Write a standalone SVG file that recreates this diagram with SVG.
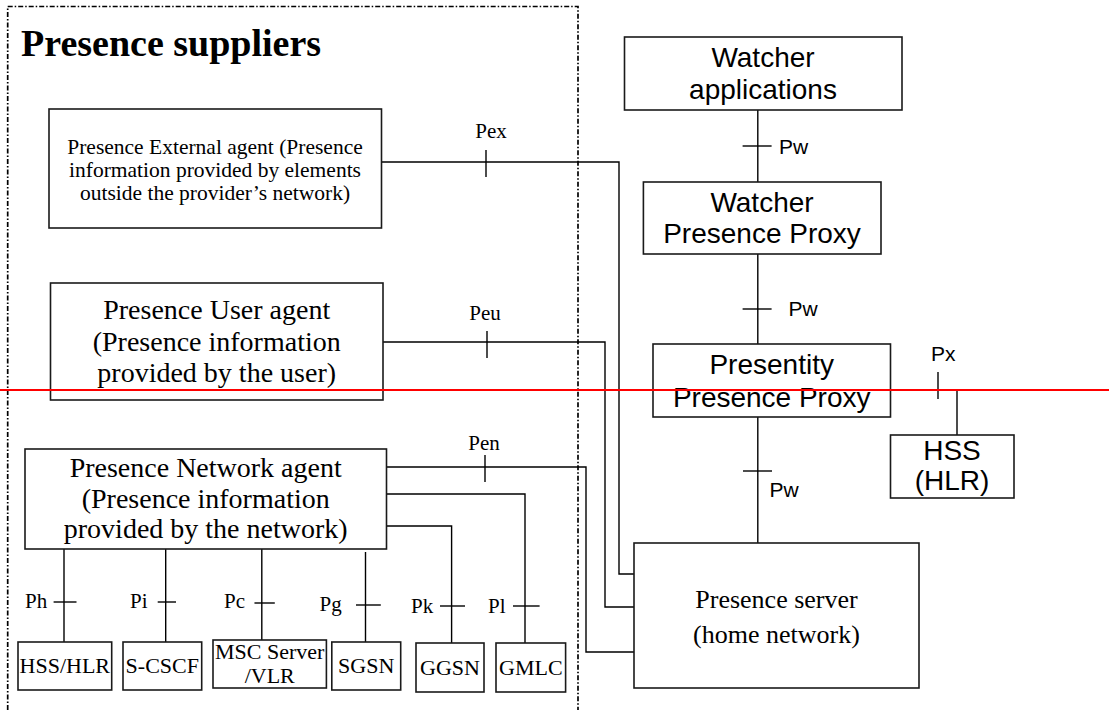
<svg xmlns="http://www.w3.org/2000/svg" width="1109" height="710" viewBox="0 0 1109 710">
<style>
.box{fill:#fff;stroke:#1a1a1a;stroke-width:1.6}
.ln{fill:none;stroke:#000;stroke-width:1.4}
.serif{font-family:"Liberation Serif","Times New Roman",serif;fill:#000}
.sans{font-family:"Liberation Sans",Arial,sans-serif;fill:#000}
.c{text-anchor:middle}
.lbl{font-size:21px}
</style>
<rect width="1109" height="710" fill="#fff"/>
<g id="suppliers-frame">
<path d="M7.7,710 V6.5 H578 V710" fill="none" stroke="#000" stroke-width="1.7" stroke-dasharray="5 2 1.5 2"/>
<text class="serif" x="21" y="56" font-size="38" font-weight="bold">Presence suppliers</text>
</g>
<g id="connectors">
<path class="ln" d="M757.8,110 V182"/>
<path class="ln" d="M742.6,146 H771.6"/>
<path class="ln" d="M757.8,254 V344"/>
<path class="ln" d="M742.6,309 H771.6"/>
<path class="ln" d="M757.8,417 V543"/>
<path class="ln" d="M743,471 H772"/>
<path class="ln" d="M890.5,390 H957 V435"/>
<path class="ln" d="M938,372 V399"/>
<path class="ln" d="M381.5,162 H619 V574 H634"/>
<path class="ln" d="M486,150 V177"/>
<path class="ln" d="M383,342 H605 V607 H634"/>
<path class="ln" d="M487,331 V358"/>
<path class="ln" d="M386.5,467 H586 V652 H634"/>
<path class="ln" d="M485,455 V482"/>
<path class="ln" d="M386.5,494 H525 V643"/>
<path class="ln" d="M513,606 H539.6"/>
<path class="ln" d="M386.5,526 H451.6 V643"/>
<path class="ln" d="M440,606 H465"/>
<path class="ln" d="M64,549 V642"/>
<path class="ln" d="M53.6,602 H76.5"/>
<path class="ln" d="M165.7,549 V642"/>
<path class="ln" d="M157.7,602 H176"/>
<path class="ln" d="M261.8,549 V640"/>
<path class="ln" d="M254.5,603 H274.8"/>
<path class="ln" d="M365.5,552 V642"/>
<path class="ln" d="M356,605 H380.8"/>
<g class="serif lbl">
<text class="c" x="491" y="138">Pex</text>
<text class="c" x="485" y="320">Peu</text>
<text class="c" x="484" y="450">Pen</text>
<text x="25" y="608">Ph</text>
<text x="130" y="608">Pi</text>
<text x="224" y="608">Pc</text>
<text x="319.6" y="611">Pg</text>
<text x="411" y="613">Pk</text>
<text x="488" y="613">Pl</text>
</g>
<g class="sans lbl">
<text x="779" y="154">Pw</text>
<text x="788.5" y="316">Pw</text>
<text x="769.6" y="497">Pw</text>
<text x="931" y="361">Px</text>
</g>
</g>
<g id="watcher-applications">
<rect class="box" x="624.5" y="37" width="277.5" height="73"/>
<text class="sans c" x="763" y="67" font-size="28">Watcher</text>
<text class="sans c" x="763" y="99" font-size="28">applications</text>
</g>
<g id="watcher-presence-proxy">
<rect class="box" x="643.4" y="182" width="237.6" height="72"/>
<text class="sans c" x="762" y="212" font-size="28">Watcher</text>
<text class="sans c" x="762" y="243" font-size="28">Presence Proxy</text>
</g>
<g id="presentity-presence-proxy">
<rect class="box" x="653" y="344" width="237.5" height="73"/>
<text class="sans c" x="771.7" y="374" font-size="28">Presentity</text>
<text class="sans c" x="771.7" y="407" font-size="28">Presence Proxy</text>
</g>
<g id="hss-hlr-right">
<rect class="box" x="890.5" y="435" width="123.5" height="63"/>
<text class="sans c" x="952" y="460" font-size="28">HSS</text>
<text class="sans c" x="952" y="490" font-size="28">(HLR)</text>
</g>
<g id="presence-server">
<rect class="box" x="634" y="543" width="285" height="145"/>
<text class="serif c" x="776.5" y="608" font-size="26">Presence server</text>
<text class="serif c" x="776.5" y="643" font-size="26">(home network)</text>
</g>
<g id="external-agent">
<rect class="box" x="49" y="109" width="332.5" height="119"/>
<text class="serif c" x="215" y="154" font-size="21.5">Presence External agent (Presence</text>
<text class="serif c" x="215" y="177" font-size="21.5">information provided by elements</text>
<text class="serif c" x="215" y="200" font-size="21.5">outside the provider’s network)</text>
</g>
<g id="user-agent">
<rect class="box" x="50.5" y="283" width="332.5" height="117"/>
<text class="serif c" x="216.7" y="319" font-size="28">Presence User agent</text>
<text class="serif c" x="216.7" y="351" font-size="28">(Presence information</text>
<text class="serif c" x="216.7" y="382" font-size="28">provided by the user)</text>
</g>
<g id="network-agent">
<rect class="box" x="25" y="449" width="361.5" height="100"/>
<text class="serif c" x="205.7" y="477" font-size="28">Presence Network agent</text>
<text class="serif c" x="205.7" y="508" font-size="28">(Presence information</text>
<text class="serif c" x="205.7" y="538" font-size="28">provided by the network)</text>
</g>
<g id="hss-hlr">
<rect class="box" x="18" y="642" width="93.7" height="48"/>
<text class="serif c" x="64.8" y="673" font-size="22">HSS/HLR</text>
</g>
<g id="s-cscf">
<rect class="box" x="123" y="642" width="78.7" height="48"/>
<text class="serif c" x="162.3" y="673" font-size="22">S-CSCF</text>
</g>
<g id="msc-server-vlr">
<rect class="box" x="213" y="640" width="113.4" height="48"/>
<text class="serif c" x="269.7" y="659" font-size="22">MSC Server</text>
<text class="serif c" x="269.7" y="683" font-size="22">/VLR</text>
</g>
<g id="sgsn">
<rect class="box" x="331.8" y="642" width="68.9" height="48"/>
<text class="serif c" x="366.2" y="673" font-size="22">SGSN</text>
</g>
<g id="ggsn">
<rect class="box" x="416" y="643" width="68" height="49"/>
<text class="serif c" x="450" y="675" font-size="22">GGSN</text>
</g>
<g id="gmlc">
<rect class="box" x="496" y="643" width="69.6" height="49"/>
<text class="serif c" x="530.8" y="675" font-size="22">GMLC</text>
</g>
<g id="marker-line">
<path d="M0,390 H1109" stroke="#f00" stroke-width="1.8"/>
</g>
</svg>
